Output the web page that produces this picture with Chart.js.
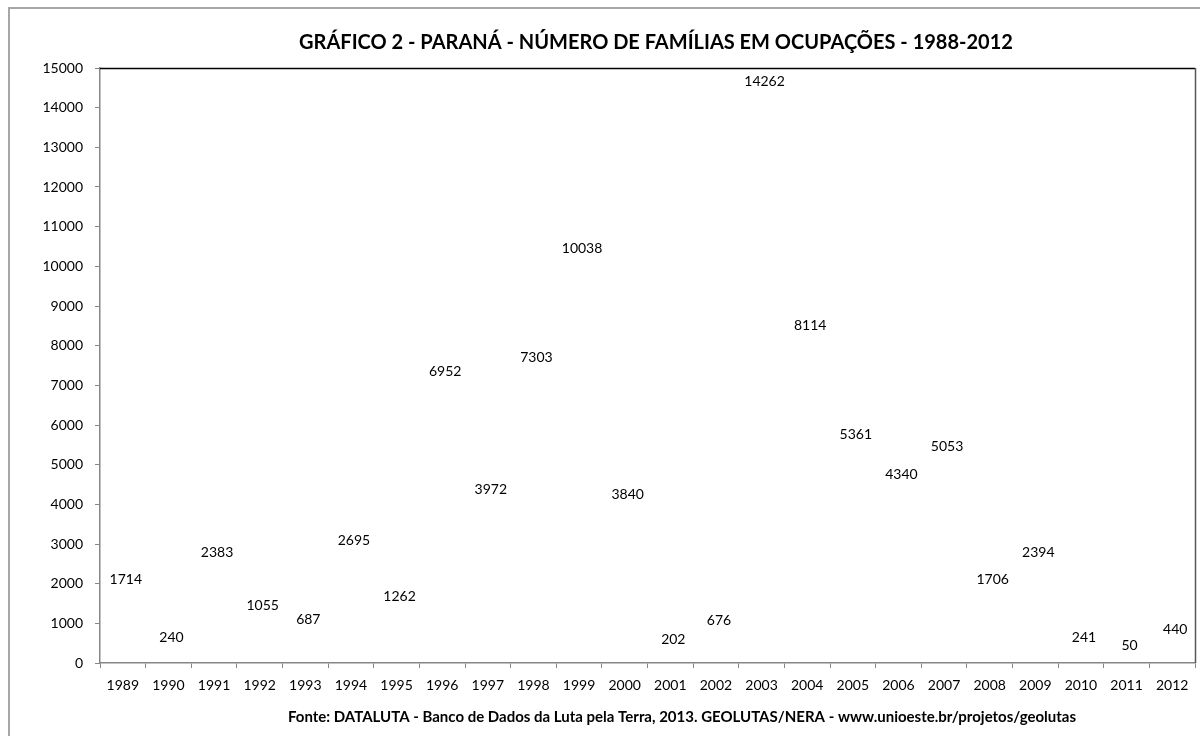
<!DOCTYPE html>
<html>
<head>
<meta charset="utf-8">
<script src="https://cdn.jsdelivr.net/npm/chart.js@4.4.0/dist/chart.umd.min.js"></script>
<style>
  html, body { margin: 0; padding: 0; background: #fff; }
  #wrap { width: 1200px; height: 736px; position: relative; }
</style>
</head>
<body>
<div id="wrap"><canvas id="familias" width="1200" height="736"></canvas></div>
<script>
var anos = ["1989","1990","1991","1992","1993","1994","1995","1996","1997","1998","1999","2000",
            "2001","2002","2003","2004","2005","2006","2007","2008","2009","2010","2011","2012"];
var familias = [1714, 240, 2383, 1055, 687, 2695, 1262, 6952, 3972, 7303, 10038, 3840,
                202, 676, 14262, 8114, 5361, 4340, 5053, 1706, 2394, 241, 50, 440];
var yMin = 0, yMax = 15000, yStep = 1000;

var titulo = "GRÁFICO 2 - PARANÁ - NÚMERO DE FAMÍLIAS EM OCUPAÇÕES - 1988-2012";
var fonte = "Fonte: DATALUTA - Banco de Dados da Luta pela Terra, 2013. GEOLUTAS/NERA - www.unioeste.br/projetos/geolutas";

var FONT = "Lato, 'Open Sans', sans-serif";

// moldura, titulo, rodape e rotulos de dados
var extras = {
  id: 'extras',
  beforeDraw: function(chart) {
    var c = chart.ctx;
    c.save();
    c.fillStyle = '#fff';
    c.fillRect(0, 0, chart.width, chart.height);
    c.strokeStyle = '#a6a6a6';
    c.lineWidth = 2;
    c.beginPath();
    c.moveTo(9, 736); c.lineTo(9, 8); c.lineTo(1200, 8);
    c.stroke();
    c.restore();
  },
  afterDraw: function(chart) {
    var c = chart.ctx, a = chart.chartArea;
    c.save();
    // borda superior e direita da area de plotagem
    c.lineWidth = 1.5;
    c.strokeStyle = '#000';
    c.beginPath(); c.moveTo(a.left, a.top + 0.5); c.lineTo(a.right, a.top + 0.5); c.stroke();
    c.strokeStyle = '#595959';
    c.beginPath(); c.moveTo(a.right + 0.5, a.top); c.lineTo(a.right + 0.5, a.bottom); c.stroke();

    c.fillStyle = '#000';
    c.textAlign = 'center';
    c.textBaseline = 'middle';
    c.font = "bold 20px " + FONT;
    c.fillText(titulo, 656, 43);
    c.font = "bold 15px " + FONT;
    c.fillText(fonte, 682, 717);

    c.font = "14px " + FONT;
    var meta = chart.getDatasetMeta(0);
    meta.data.forEach(function(pt, i) {
      c.fillText(String(familias[i]), pt.x + 3, pt.y - 16);
    });
    c.restore();
  }
};

new Chart(document.getElementById('familias'), {
  type: 'line',
  data: {
    labels: anos,
    datasets: [{
      label: 'Famílias',
      data: familias,
      borderColor: 'rgba(0,0,0,0)',
      backgroundColor: 'rgba(0,0,0,0)',
      pointRadius: 0,
      borderWidth: 0
    }]
  },
  options: {
    responsive: false,
    animation: false,
    layout: { padding: { top: 68, right: 5, left: 0, bottom: 0 } },
    plugins: {
      legend: { display: false },
      tooltip: { enabled: false }
    },
    scales: {
      x: {
        offset: true,
        afterFit: function(s) { s.height = 73; },
        grid: { offset: true, drawOnChartArea: false, drawTicks: true, tickLength: 5, color: '#868686' },
        border: { color: '#868686', width: 1.5 },
        ticks: { color: '#000', font: { family: FONT, size: 14 }, padding: 9, maxRotation: 0, autoSkip: false }
      },
      y: {
        min: yMin, max: yMax,
        afterFit: function(s) { s.width = 100; },
        grid: { drawOnChartArea: false, drawTicks: true, tickLength: 5, color: '#868686' },
        border: { color: '#868686', width: 1.5 },
        ticks: {
          stepSize: yStep, color: '#000', font: { family: FONT, size: 14 }, padding: 12,
          callback: function(v) { return String(v); }
        }
      }
    }
  },
  plugins: [extras]
});
</script>
</body>
</html>
